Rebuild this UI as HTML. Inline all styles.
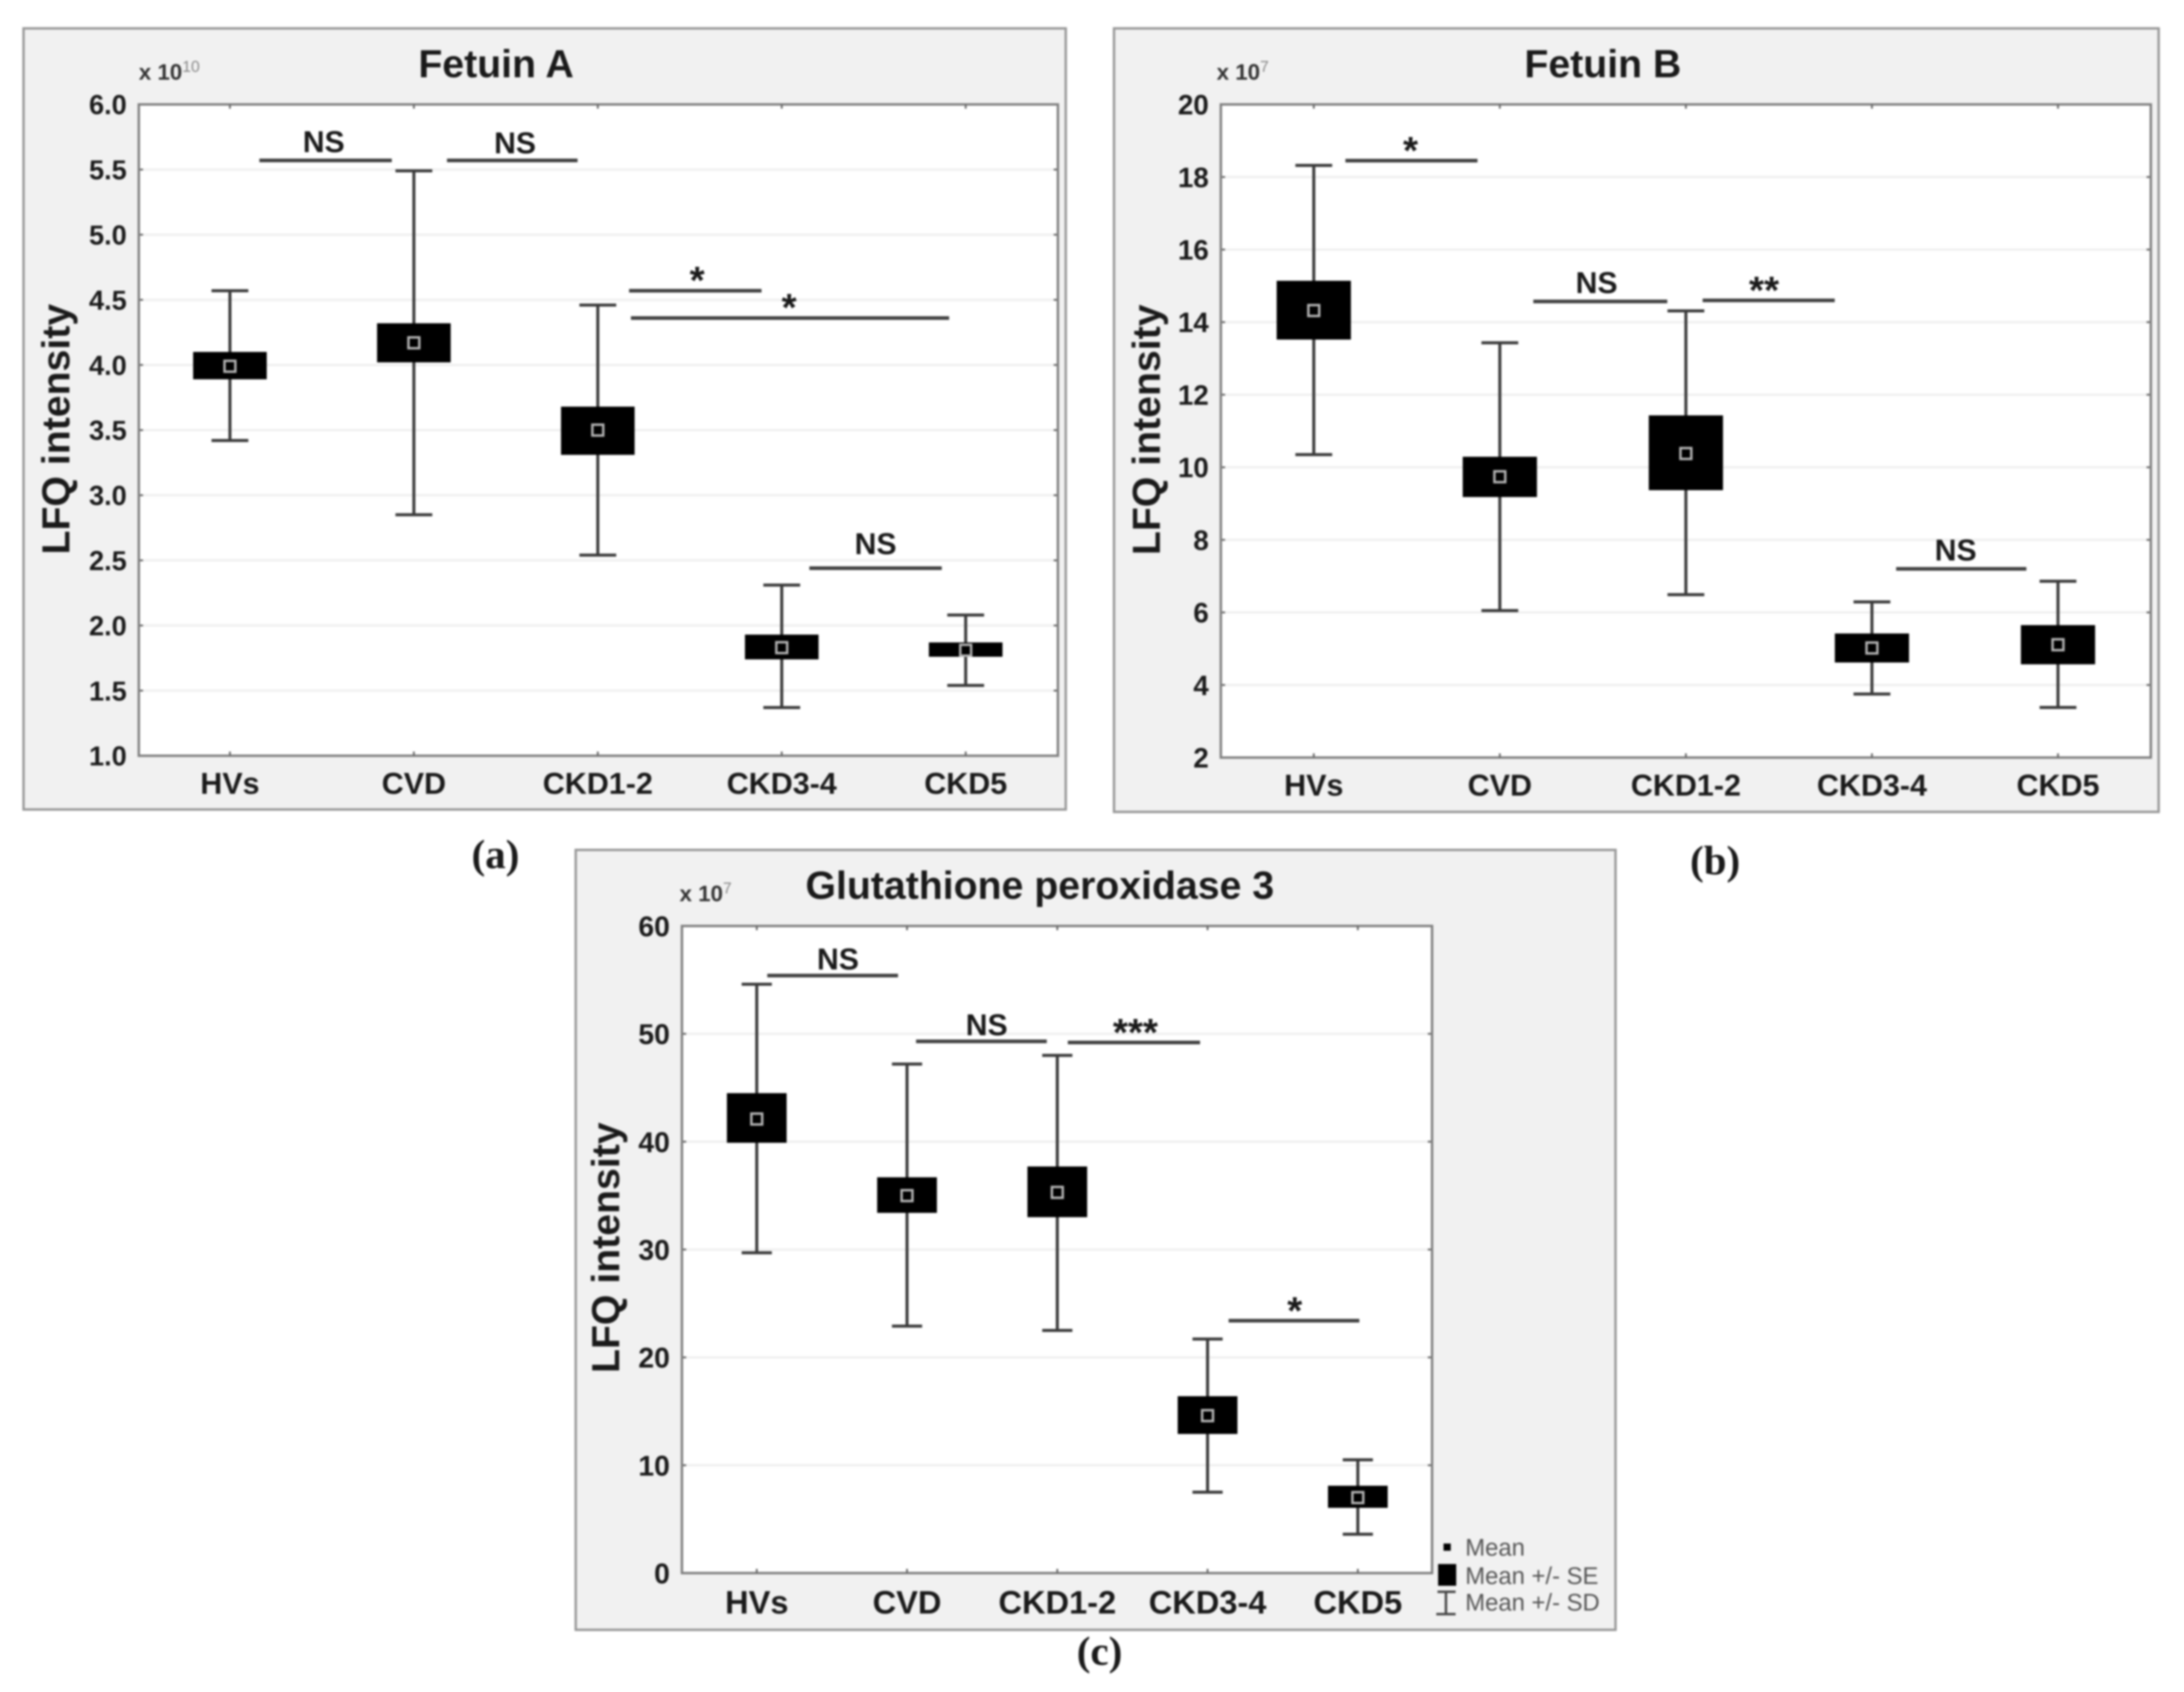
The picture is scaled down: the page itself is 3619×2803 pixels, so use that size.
<!DOCTYPE html>
<html lang="en">
<head>
<meta charset="utf-8">
<title>Fetuin A, Fetuin B and Glutathione peroxidase 3 LFQ intensity</title>
<style>
  html, body { margin: 0; padding: 0; background: #fff; }
  #figure { display: block; width: 3619px; height: 2803px; filter: blur(1.5px); }
  text { font-family: "Liberation Sans", sans-serif; }
  .bold { font-weight: bold; fill: #1a1a1a; }
  .panel-label { font-family: "Liberation Serif", serif; font-weight: bold; font-size: 68px; fill: #1a1a1a; text-anchor: middle; }
  .legend-text { font-size: 39.5px; fill: #555; }
</style>
</head>
<body>
<svg id="figure" xmlns="http://www.w3.org/2000/svg" width="3619" height="2803" viewBox="0 0 3619 2803">
  <rect x="0" y="0" width="3619" height="2803" fill="#ffffff"/>

  <g>
    <rect x="39" y="47" width="1727" height="1294" fill="#f1f1f1" stroke="#999" stroke-width="4"/>
    <text class="bold" x="822" y="128" font-size="65" text-anchor="middle">Fetuin A</text>
    <text x="230" y="132" font-size="37" font-weight="bold" fill="#333">x 10<tspan font-size="26" font-weight="normal" fill="#888" dy="-13">10</tspan></text>
    <text class="bold" transform="translate(115 711) rotate(-90)" font-size="65" text-anchor="middle">LFQ intensity</text>
    <g id="panel-a-plot"></g>
  </g>

  <g>
    <rect x="1846" y="47" width="1731" height="1298" fill="#f1f1f1" stroke="#999" stroke-width="4"/>
    <text class="bold" x="2656" y="128" font-size="65" text-anchor="middle">Fetuin B</text>
    <text x="2016" y="132" font-size="37" font-weight="bold" fill="#333">x 10<tspan font-size="26" font-weight="normal" fill="#888" dy="-13">7</tspan></text>
    <text class="bold" transform="translate(1922 712) rotate(-90)" font-size="65" text-anchor="middle">LFQ intensity</text>
    <g id="panel-b-plot"></g>
  </g>

  <g>
    <rect x="954" y="1408" width="1723" height="1292" fill="#f1f1f1" stroke="#999" stroke-width="4"/>
    <text class="bold" x="1723" y="1489" font-size="65" text-anchor="middle">Glutathione peroxidase 3</text>
    <text x="1126" y="1493" font-size="37" font-weight="bold" fill="#333">x 10<tspan font-size="26" font-weight="normal" fill="#888" dy="-13">7</tspan></text>
    <text class="bold" transform="translate(1026 2067) rotate(-90)" font-size="65" text-anchor="middle">LFQ intensity</text>
    <g id="panel-c-plot"></g>
    <g>
      <g>
        <rect x="2392" y="2557" width="12" height="12" fill="#000"/>
        <text class="legend-text" x="2428" y="2577">Mean</text>
      </g>
      <g>
        <rect x="2383" y="2591" width="30" height="36" fill="#000"/>
        <text class="legend-text" x="2428" y="2624">Mean +/- SE</text>
      </g>
      <g>
        <path d="M2382 2637H2412M2396 2637V2674M2380 2674H2412" fill="none" stroke="#444" stroke-width="4"/>
        <text class="legend-text" x="2428" y="2668">Mean +/- SD</text>
      </g>
    </g>
  </g>

  <text class="panel-label" x="821" y="1438">(a)</text>
  <text class="panel-label" x="2842" y="1448">(b)</text>
  <text class="panel-label" x="1822" y="2758">(c)</text>
</svg>

<script>
// Shared categories
const categories = ['HVs', 'CVD', 'CKD1-2', 'CKD3-4', 'CKD5'];

// Fetuin A (x 10^10)
const fetuinATicks = ['1.0', '1.5', '2.0', '2.5', '3.0', '3.5', '4.0', '4.5', '5.0', '5.5', '6.0'];
const fetuinAMean = [3.99, 4.17, 3.50, 1.83, 1.81];
const fetuinASeHigh = [4.10, 4.32, 3.68, 1.93, 1.87];
const fetuinASeLow = [3.89, 4.02, 3.31, 1.74, 1.76];
const fetuinASdHigh = [4.57, 5.49, 4.46, 2.31, 2.08];
const fetuinASdLow = [3.42, 2.85, 2.54, 1.37, 1.54];
const fetuinASigLabels = ['NS', 'NS', '*', '*', 'NS'];
const fetuinASigFrom = [0.16, 1.18, 2.17, 2.18, 3.15];
const fetuinASigTo = [0.88, 1.89, 2.89, 3.91, 3.87];
const fetuinASigLevel = [5.57, 5.57, 4.57, 4.36, 2.44];
const fetuinASigTextLevel = [5.635, 5.625, 4.55, 4.34, 2.547];
const fetuinASigTextAt = [0.51, 1.55, 2.54, 3.04, 3.51];

// Fetuin B (x 10^7)
const fetuinBTicks = ['2', '4', '6', '8', '10', '12', '14', '16', '18', '20'];
const fetuinBMean = [14.32, 9.74, 10.38, 5.02, 5.11];
const fetuinBSeHigh = [15.14, 10.29, 11.43, 5.42, 5.65];
const fetuinBSeLow = [13.52, 9.18, 9.37, 4.62, 4.57];
const fetuinBSdHigh = [18.32, 13.43, 14.31, 6.29, 6.86];
const fetuinBSdLow = [10.35, 6.05, 6.49, 3.75, 3.38];
const fetuinBSigLabels = ['*', 'NS', '**', 'NS'];
const fetuinBSigFrom = [0.17, 1.18, 2.09, 3.13];
const fetuinBSigTo = [0.88, 1.90, 2.80, 3.83];
const fetuinBSigLevel = [18.45, 14.57, 14.60, 7.20];
const fetuinBSigTextLevel = [18.37, 14.80, 14.52, 7.43];
const fetuinBSigTextAt = [0.52, 1.52, 2.42, 3.45];

// Glutathione peroxidase 3 (x 10^7)
const gpx3Ticks = ['0', '10', '20', '30', '40', '50', '60'];
const gpx3Mean = [42.1, 35.0, 35.3, 14.6, 7.0];
const gpx3SeHigh = [44.5, 36.7, 37.7, 16.4, 8.1];
const gpx3SeLow = [39.9, 33.4, 33.0, 12.9, 6.05];
const gpx3SdHigh = [54.6, 47.2, 48.0, 21.7, 10.5];
const gpx3SdLow = [29.7, 22.9, 22.5, 7.5, 3.6];
const gpx3SigLabels = ['NS', 'NS', '***', '*'];
const gpx3SigFrom = [0.07, 1.06, 2.07, 3.14];
const gpx3SigTo = [0.94, 1.93, 2.95, 4.01];
const gpx3SigLevel = [55.4, 49.3, 49.2, 23.4];
const gpx3SigTextLevel = [55.96, 49.86, 48.92, 23.12];
const gpx3SigTextAt = [0.54, 1.53, 2.52, 3.58];

const SVG_NS = 'http://www.w3.org/2000/svg';

function make(parent, tag) {
  const el = document.createElementNS(SVG_NS, tag);
  parent.appendChild(el);
  return el;
}

function line(parent, x1, y1, x2, y2, color, width) {
  const el = make(parent, 'line');
  el.setAttribute('x1', x1);
  el.setAttribute('y1', y1);
  el.setAttribute('x2', x2);
  el.setAttribute('y2', y2);
  el.setAttribute('stroke', color);
  el.setAttribute('stroke-width', width);
  return el;
}

function rect(parent, x, y, w, h, fill, stroke, strokeWidth) {
  const el = make(parent, 'rect');
  el.setAttribute('x', x);
  el.setAttribute('y', y);
  el.setAttribute('width', w);
  el.setAttribute('height', h);
  el.setAttribute('fill', fill);
  if (stroke) {
    el.setAttribute('stroke', stroke);
    el.setAttribute('stroke-width', strokeWidth);
  }
  return el;
}

function label(parent, x, y, str, size, anchor) {
  const el = make(parent, 'text');
  el.setAttribute('x', x);
  el.setAttribute('y', y);
  el.setAttribute('font-size', size);
  el.setAttribute('text-anchor', anchor);
  el.setAttribute('class', 'bold');
  el.textContent = str;
  return el;
}

function drawPanel(cfg) {
  const root = document.getElementById(cfg.id);
  const yMin = Number(cfg.ticks[0]);
  const yMax = Number(cfg.ticks[cfg.ticks.length - 1]);
  const yScale = function (v) {
    return cfg.bottom - (v - yMin) / (yMax - yMin) * (cfg.bottom - cfg.top);
  };
  const xScale = function (c) {
    return cfg.x0 + c * cfg.step;
  };

  const bg = rect(root, cfg.left, cfg.top, cfg.right - cfg.left, cfg.bottom - cfg.top, '#ffffff');
  
  

  cfg.ticks.forEach(function (t) {
    const y = yScale(Number(t));
    if (Number(t) !== yMin && Number(t) !== yMax) {
      const grid = line(root, cfg.left, y, cfg.right, y, '#f0f0f0', 4);
      
      
    }
    const tickL = line(root, cfg.left, y, cfg.left + 7, y, '#666', 3);
    
    
    const tickR = line(root, cfg.right - 7, y, cfg.right, y, '#666', 3);
    
    
    const tickText = label(root, cfg.left - 20, y + cfg.tickSize * 0.36, t, cfg.tickSize, 'end');
    
    
  });

  const border = rect(root, cfg.left, cfg.top, cfg.right - cfg.left, cfg.bottom - cfg.top, 'none', '#808080', 4);
  
  

  categories.forEach(function (name, i) {
    const x = xScale(i);
    const tickTop = line(root, x, cfg.top, x, cfg.top + 7, '#666', 3);
    
    
    const tickBottom = line(root, x, cfg.bottom - 7, x, cfg.bottom, '#666', 3);
    
    
    const catText = label(root, x, cfg.bottom + cfg.catOffset, name, cfg.catSize, 'middle');
    
    

    const yHigh = yScale(cfg.sdHigh[i]);
    const yLow = yScale(cfg.sdLow[i]);
    const stem = line(root, x, yHigh, x, yLow, '#3a3a3a', 5);
    
    
    const capHigh = line(root, x - cfg.capW / 2, yHigh, x + cfg.capW / 2, yHigh, '#3a3a3a', 5);
    
    
    const capLow = line(root, x - cfg.capW / 2, yLow, x + cfg.capW / 2, yLow, '#3a3a3a', 5);
    
    

    const seTop = yScale(cfg.seHigh[i]);
    const seBottom = yScale(cfg.seLow[i]);
    const box = rect(root, x - cfg.boxW / 2, seTop, cfg.boxW, seBottom - seTop, '#000000');
    
    

    const my = yScale(cfg.mean[i]);
    const marker = rect(root, x - 9, my - 9, 18, 18, '#000000', '#b5b5b5', 4);
    
    
  });

  cfg.sigLabels.forEach(function (sig, i) {
    const y = yScale(cfg.sigLevel[i]);
    const bar = line(root, xScale(cfg.sigFrom[i]), y, xScale(cfg.sigTo[i]), y, '#404040', 6);
    
    
    const isStar = sig.charAt(0) === '*';
    const sigText = label(root, xScale(cfg.sigTextAt[i]), yScale(cfg.sigTextLevel[i]), sig, isStar ? 64 : 50, 'middle');
    
    
  });
}

drawPanel({
  id: 'panel-a-plot', left: 230, right: 1753, top: 173, bottom: 1252,
  x0: 381, step: 304.8, boxW: 122, capW: 61, tickSize: 45, catSize: 50.5, catOffset: 63,
  ticks: fetuinATicks, mean: fetuinAMean, seHigh: fetuinASeHigh, seLow: fetuinASeLow,
  sdHigh: fetuinASdHigh, sdLow: fetuinASdLow, sigLabels: fetuinASigLabels,
  sigFrom: fetuinASigFrom, sigTo: fetuinASigTo, sigLevel: fetuinASigLevel,
  sigTextLevel: fetuinASigTextLevel, sigTextAt: fetuinASigTextAt
});

drawPanel({
  id: 'panel-b-plot', left: 2023, right: 3564, top: 173, bottom: 1255,
  x0: 2177, step: 308.3, boxW: 123, capW: 61, tickSize: 46, catSize: 50.5, catOffset: 63,
  ticks: fetuinBTicks, mean: fetuinBMean, seHigh: fetuinBSeHigh, seLow: fetuinBSeLow,
  sdHigh: fetuinBSdHigh, sdLow: fetuinBSdLow, sigLabels: fetuinBSigLabels,
  sigFrom: fetuinBSigFrom, sigTo: fetuinBSigTo, sigLevel: fetuinBSigLevel,
  sigTextLevel: fetuinBSigTextLevel, sigTextAt: fetuinBSigTextAt
});

drawPanel({
  id: 'panel-c-plot', left: 1130, right: 2373, top: 1534, bottom: 2606,
  x0: 1254, step: 249, boxW: 99, capW: 50, tickSize: 47, catSize: 54, catOffset: 67,
  ticks: gpx3Ticks, mean: gpx3Mean, seHigh: gpx3SeHigh, seLow: gpx3SeLow,
  sdHigh: gpx3SdHigh, sdLow: gpx3SdLow, sigLabels: gpx3SigLabels,
  sigFrom: gpx3SigFrom, sigTo: gpx3SigTo, sigLevel: gpx3SigLevel,
  sigTextLevel: gpx3SigTextLevel, sigTextAt: gpx3SigTextAt
});
</script>
</body>
</html>
